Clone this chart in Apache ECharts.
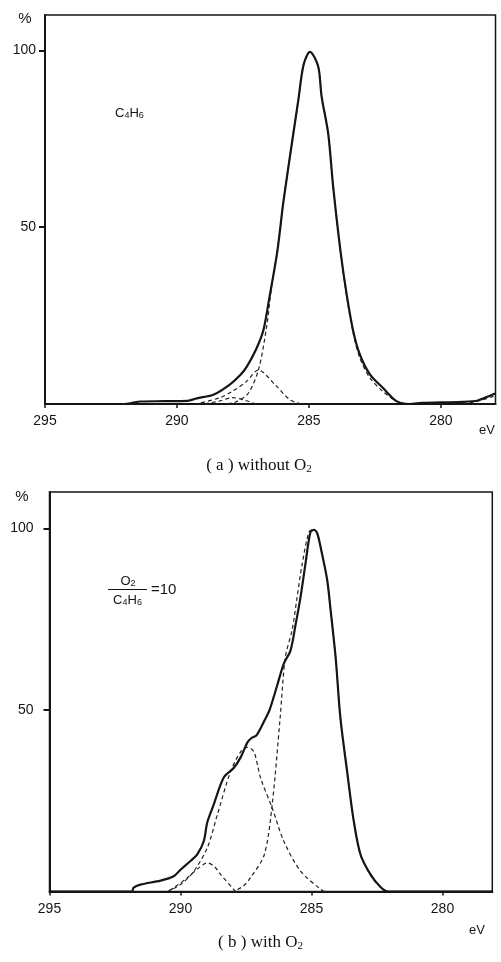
<!DOCTYPE html>
<html>
<head>
<meta charset="utf-8">
<script src="https://cdn.jsdelivr.net/npm/echarts@6/dist/echarts.min.js"></script>
<style>
html,body{margin:0;padding:0;background:#fff;}
#chart{width:501px;height:962px;}
</style>
</head>
<body>
<div id="chart"></div>
<script>
// ---- data (binding energy eV, intensity %) ----
var xTicks = [295, 290, 285, 280];
var yTicks = [50, 100];

// (a) without O2
var aMeasured = [[295,0],[292.0,0],[291.7,0.3],[291.4,0.7],[290.5,0.8],[289.6,0.9],[289.25,1.6],[288.6,2.7],[288.0,5.5],[287.6,8.2],[287.36,10.5],[287.0,15.5],[286.73,20.7],[286.5,30],[286.2,43],[285.97,57],[285.6,76],[285.4,86],[285.2,96],[284.96,99.6],[284.65,95.5],[284.52,87],[284.27,76.5],[284.08,61.4],[283.8,43],[283.57,31],[283.32,20.6],[283.07,14],[282.69,8.4],[282.19,4.5],[281.68,0.8],[281.2,0],[280.7,0.3],[279.2,0.6],[278.6,1.0],[278.1,2.5],[277.95,3]];
var aMain = [[288.2,0],[287.8,0.5],[287.3,3],[286.9,10],[286.6,22],[286.4,34],[286.2,43],[285.97,57],[285.6,76],[285.4,86],[285.2,96],[284.96,99.6],[284.65,95.5],[284.52,87],[284.27,76.5],[284.08,61],[283.8,43],[283.57,30.5],[283.32,20],[283.07,13],[282.69,7.4],[282.19,3.5],[281.68,0.8],[281.3,0]];
var aSmall = [[289.3,0],[288.4,1.7],[287.9,3.6],[287.36,6.4],[286.92,9.6],[286.29,5.5],[285.72,1.2],[285.3,0]];
var aTiny = [[289.0,0],[288.4,0.8],[287.9,1.8],[287.5,1.2],[287.0,0]];
var aEdge = [[279.2,0],[278.6,0.8],[278.0,2.2]];

// (b) with O2
var bMeasured = [[295,0],[291.85,0],[291.8,1],[291.53,1.9],[290.76,3],[290.26,4.2],[290.0,6],[289.62,8.4],[289.36,10.2],[289.11,13.9],[288.98,19],[288.73,24],[288.35,31.4],[287.97,34],[287.7,37],[287.45,41],[287.3,42.2],[287.1,43],[286.8,47],[286.6,50],[286.3,57],[286.06,62.7],[285.8,66.4],[285.6,73.8],[285.42,81],[285.23,90.3],[285.04,99],[284.9,99.6],[284.78,98.6],[284.6,93],[284.4,85.7],[284.27,77.4],[284.08,64.5],[283.9,48],[283.64,33],[283.39,19.5],[283.13,10.2],[282.75,4.7],[282.4,1.5],[282.1,0],[278.1,0]];
var bMain = [[288.0,0],[287.6,1.5],[287.33,3.8],[286.8,10.2],[286.5,24],[286.2,47.6],[286.0,64.5],[285.74,72],[285.55,81],[285.36,90],[285.1,99],[284.95,99.6],[284.78,98.6],[284.6,93],[284.4,85.7],[284.27,77.4],[284.08,64.5],[283.9,48],[283.64,33],[283.39,19.5],[283.13,10],[282.75,4.5],[282.4,1.4],[282.1,0]];
var bMiddle = [[290.5,0],[290.0,1.9],[289.49,5.6],[288.98,12],[288.6,21],[288.09,33],[287.7,38.5],[287.45,39.7],[287.2,38.5],[286.95,31.4],[286.5,23],[286.06,13.9],[285.42,5.6],[284.65,0.6],[284.5,0]];
var bSmall = [[290.5,0],[290.26,1],[289.74,3.8],[289.3,6.5],[288.98,7.9],[288.7,6.8],[288.47,4.7],[287.96,0.5],[287.9,0]];

var chart = echarts.init(document.getElementById('chart'), null, {renderer:'canvas'});
var INK = '#151515';
var tickFont = {color: INK, fontSize: 14, fontFamily: 'Liberation Sans'};

function asc(d) { return d.slice().sort(function (p, q) { return p[0] - q[0]; }); }

function xAx(gi, minV, margin) {
  return {
    type: 'value', gridIndex: gi, inverse: true, min: minV, max: 295,
    axisLine: {show: true, onZero: false, lineStyle: {color: INK, width: 2}},
    axisTick: {show: true, inside: false, length: 4, customValues: xTicks, lineStyle: {color: INK, width: 1.5}},
    axisLabel: Object.assign({show: true, margin: margin, customValues: xTicks}, tickFont),
    splitLine: {show: false}
  };
}
function yAx(gi, margin) {
  return {
    type: 'value', gridIndex: gi, min: 0, max: 110,
    axisLine: {show: true, lineStyle: {color: INK, width: 2}},
    axisTick: {show: true, length: 6, customValues: yTicks, lineStyle: {color: INK, width: 2}},
    axisLabel: Object.assign({show: true, margin: margin, customValues: yTicks}, tickFont),
    splitLine: {show: false}
  };
}
function solid(data, xi) {
  return {type: 'line', xAxisIndex: xi, yAxisIndex: xi, data: asc(data), showSymbol: false, smooth: 0.3,
    lineStyle: {color: INK, width: 2.2}, silent: true, z: 3};
}
function dashed(data, xi) {
  return {type: 'line', xAxisIndex: xi, yAxisIndex: xi, data: asc(data), showSymbol: false, smooth: 0.3,
    lineStyle: {color: '#222', width: 1.2, type: [4, 3]}, silent: true, z: 2};
}

var sub = {fontSize: 9, fontFamily: 'Liberation Sans', fill: INK, padding: [6, 0, 0, 0]};
var nrm = {fontSize: 13, fontFamily: 'Liberation Sans', fill: INK};
var capN = {fontSize: 17, fontFamily: 'Liberation Serif', fill: '#111'};
var capS = {fontSize: 11, fontFamily: 'Liberation Serif', fill: '#111', padding: [7, 0, 0, 0]};

var option = {
  backgroundColor: '#fff',
  animation: false,
  grid: [
    {left: 45, top: 15, width: 450.5, height: 389, show: true, borderColor: INK, borderWidth: 1.5, containLabel: false},
    {left: 49.5, top: 492, width: 442.8, height: 399.5, show: true, borderColor: INK, borderWidth: 1.5, containLabel: false}
  ],
  xAxis: [xAx(0, 277.93, 10), xAx(1, 278.1, 11)],
  yAxis: [yAx(0, 9), yAx(1, 16)],
  series: [
    solid(aMeasured, 0), dashed(aMain, 0), dashed(aSmall, 0), dashed(aTiny, 0), dashed(aEdge, 0),
    solid(bMeasured, 1), dashed(bMain, 1), dashed(bMiddle, 1), dashed(bSmall, 1)
  ],
  graphic: [
    {type: 'text', x: 25, y: 19, style: {text: '%', fontSize: 15, fontFamily: 'Liberation Sans', fill: INK, textAlign: 'center', textVerticalAlign: 'middle'}},
    {type: 'text', x: 22, y: 497, style: {text: '%', fontSize: 15, fontFamily: 'Liberation Sans', fill: INK, textAlign: 'center', textVerticalAlign: 'middle'}},
    {type: 'text', x: 487, y: 430, style: {text: 'eV', fontSize: 13, fontFamily: 'Liberation Sans', fill: INK, textAlign: 'center', textVerticalAlign: 'middle'}},
    {type: 'text', x: 477, y: 930, style: {text: 'eV', fontSize: 13, fontFamily: 'Liberation Sans', fill: INK, textAlign: 'center', textVerticalAlign: 'middle'}},
    {type: 'text', x: 115, y: 113, style: {text: '{n|C}{s|4}{n|H}{s|6}', rich: {n: nrm, s: sub}, textAlign: 'left', textVerticalAlign: 'middle'}},
    {type: 'text', x: 128, y: 581, style: {text: '{n|O}{s|2}', rich: {n: nrm, s: sub}, textAlign: 'center', textVerticalAlign: 'middle'}},
    {type: 'line', shape: {x1: 108, y1: 589.5, x2: 147, y2: 589.5}, style: {stroke: INK, lineWidth: 1}},
    {type: 'text', x: 127.5, y: 600, style: {text: '{n|C}{s|4}{n|H}{s|6}', rich: {n: nrm, s: sub}, textAlign: 'center', textVerticalAlign: 'middle'}},
    {type: 'text', x: 151, y: 590, style: {text: '=10', fontSize: 15, fontFamily: 'Liberation Sans', fill: INK, textAlign: 'left', textVerticalAlign: 'middle'}},
    {type: 'text', x: 259, y: 466, style: {text: '{n|( a ) without O}{s|2}', rich: {n: capN, s: capS}, textAlign: 'center', textVerticalAlign: 'middle'}},
    {type: 'text', x: 260.5, y: 943, style: {text: '{n|( b ) with O}{s|2}', rich: {n: capN, s: capS}, textAlign: 'center', textVerticalAlign: 'middle'}}
  ]
};
chart.setOption(option);
</script>
</body>
</html>
